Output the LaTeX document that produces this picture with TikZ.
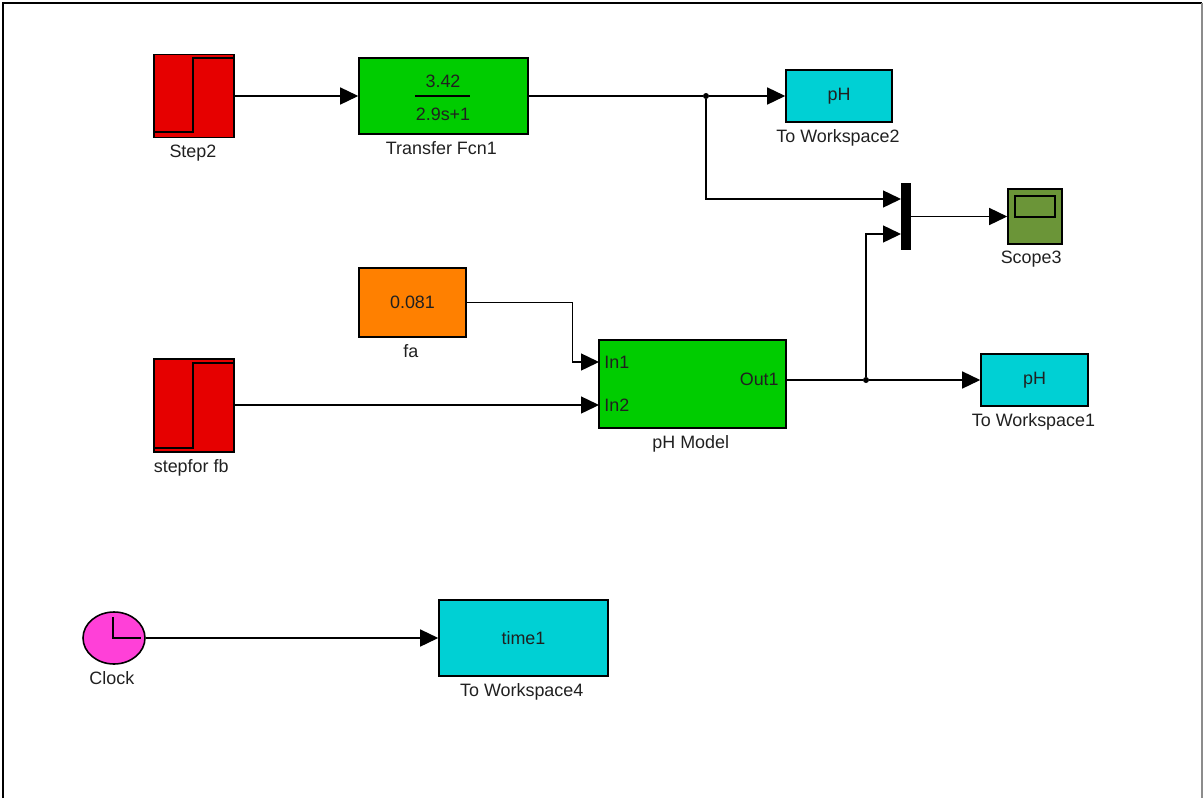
\documentclass[tikz,border=0pt]{standalone}
\usepackage{fontspec}
\setmainfont{Liberation Sans}
\usepackage{tikz}
\usetikzlibrary{positioning,arrows.meta,calc,shapes.geometric}
\definecolor{stepred}{HTML}{E60000}
\definecolor{blockgreen}{HTML}{00CC00}
\definecolor{wscyan}{HTML}{00D0D4}
\definecolor{constorange}{HTML}{FF8000}
\definecolor{scopeolive}{HTML}{6B9538}
\definecolor{clockpink}{HTML}{FF40D8}
\definecolor{labelgrey}{HTML}{202020}

\begin{document}
\begin{tikzpicture}[
        x=0.02cm, y=-0.02cm,
        blockbox/.style={rectangle, draw=black, line width=0.9pt, inner sep=0pt,
        font=\fontsize{10.2}{12}\selectfont, text=labelgrey},
        stepblock/.style={blockbox, fill=stepred, minimum width=1.6cm},
        greenblock/.style={blockbox, fill=blockgreen},
        wsblock/.style={blockbox, fill=wscyan},
        blocklabel/.style={anchor=north, inner sep=0pt, yshift=-3.6pt,
        font=\fontsize{10.2}{12}\selectfont, text=labelgrey},
        portlabel/.style={inner sep=0pt, font=\fontsize{10.2}{12}\selectfont, text=labelgrey},
        signal/.style={-{Triangle[length=0.36cm,width=0.34cm]}, line width=0.8pt, black},
        plainline/.style={line width=0.8pt, black},
        junction/.style={circle, fill=black, inner sep=0pt, minimum size=0.12cm},
      ]
      \useasboundingbox (0,0) rectangle (1203,798);
      % Window edge
      \draw[line width=1.1pt, black] (3,798) -- (3,3) -- (1202,3);
      \draw[line width=1.1pt, black!45] (1202,3) -- (1202,798);

      % Top row
      \node[stepblock, minimum height=1.66cm] (step2) at (194,96) {};
      \draw[plainline] (154,132) -- (193,132) -- (193,58) -- (234,58);
      \node[blocklabel, xshift=-0.6pt] (step2lab) at (step2.south) {Step2};
      \node[greenblock, minimum width=3.38cm, minimum height=1.52cm] (tf1) at (443.5,96) {};
      \node[portlabel] (tfnum) at (443,81) {3.42};
      \node[portlabel] (tfden) at (443,114) {2.9s+1};
      \draw[plainline] (415,96) -- (470,96);
      \node[blocklabel, xshift=-1.2pt] (tf1lab) at (tf1.south) {Transfer Fcn1};
      \node[wsblock, minimum width=2.12cm, minimum height=1.04cm] (ws2) at (839,96) {pH};
      \node[blocklabel, xshift=-0.6pt] (ws2lab) at (ws2.south) {To Workspace2};

      % Mux and scope
      \node[rectangle, fill=black, inner sep=0pt, minimum width=0.2cm,
      minimum height=1.34cm] (mux) at (906,216.5) {};
      \coordinate (muxin1) at (901,199);
      \coordinate (muxin2) at (901,234);
      \node[blockbox, fill=scopeolive, minimum width=1.08cm, minimum height=1.1cm] (scope3) at (1035,216.5) {};
      \draw[plainline] (1015,196) rectangle (1055,217);
      \node[blocklabel, xshift=-2.2pt] (scope3lab) at (scope3.south) {Scope3};

      % Middle row
      \node[blockbox, fill=constorange, minimum width=2.14cm, minimum height=1.38cm] (fa) at (412.5,302.5) {0.081};
      \node[blocklabel, xshift=-1pt] (falab) at (fa.south) {fa};
      \node[greenblock, minimum width=3.74cm, minimum height=1.76cm] (model) at (692.5,384) {};
      \coordinate (in1) at (599,362);
      \coordinate (in2) at (599,405);
      \coordinate (out1) at (786,380);
      \node[portlabel, anchor=west] (in1lab) at (604,362) {In1};
      \node[portlabel, anchor=west] (in2lab) at (604,405) {In2};
      \node[portlabel, anchor=east] (out1lab) at (779,379) {Out1};
      \node[blocklabel, xshift=-1pt] (modellab) at (model.south) {pH Model};
      \node[stepblock, minimum height=1.86cm] (stepfb) at (194,405.5) {};
      \draw[plainline] (154,448) -- (193,448) -- (193,363) -- (234,363);
      \node[blocklabel, xshift=-1.6pt] (stepfblab) at (stepfb.south) {stepfor fb};
      \node[wsblock, minimum width=2.14cm, minimum height=1.04cm] (ws1) at (1034.5,380) {pH};
      \node[blocklabel, xshift=-0.6pt] (ws1lab) at (ws1.south) {To Workspace1};

      % Clock row
      \node[ellipse, draw=black, fill=clockpink, line width=0.9pt, inner sep=0pt,
      minimum width=1.24cm, minimum height=1.04cm] (clock) at (114,638) {};
      \draw[plainline] (113,617) -- (113,638) -- (141,638);
      \node[blocklabel, xshift=-1.2pt] (clocklab) at (clock.south) {Clock};
      \node[wsblock, minimum width=3.38cm, minimum height=1.52cm] (ws4) at (523.5,638) {time1};
      \node[blocklabel, xshift=-1pt] (ws4lab) at (ws4.south) {To Workspace4};

      % Junctions
      \node[junction] (j1) at (706,96) {};
      \node[junction] (j2) at (866,380) {};

      % Signals
      \draw[signal] (step2) -- (tf1);
      \draw[plainline] (tf1) -- (j1);
      \draw[signal] (j1) -- (ws2);
      \draw[signal] (j1) |- (muxin1);
      \draw[signal] (j2) |- (muxin2);
      \draw[signal] (mux) -- (scope3);
      \draw[signal] (fa.east) -- ++(106,0) |- (in1);
      \draw[signal] (stepfb.east |- in2) -- (in2);
      \draw[plainline] (out1) -- (j2);
      \draw[signal] (j2) -- (ws1);
      \draw[signal] (clock) -- (ws4);
    \end{tikzpicture}
\end{document}
